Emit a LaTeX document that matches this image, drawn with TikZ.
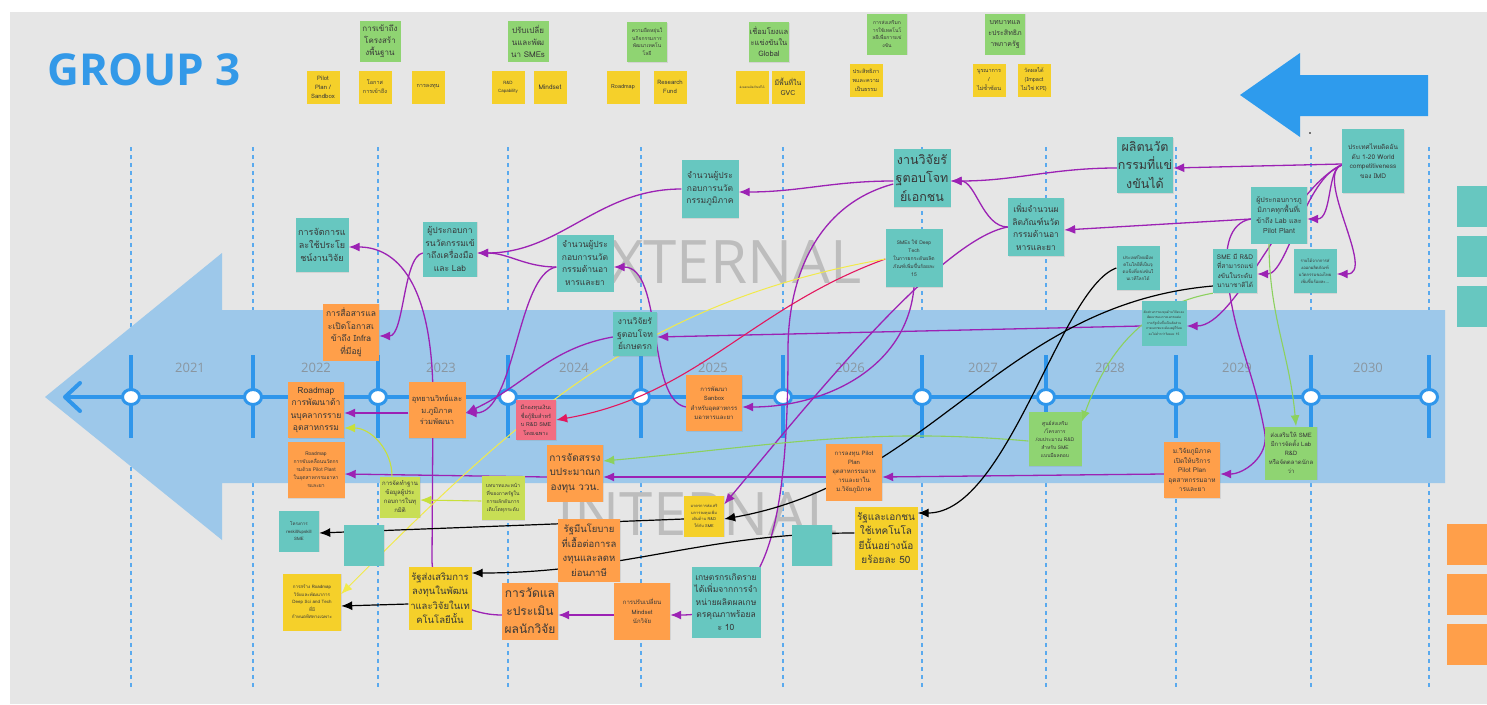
\documentclass[tikz,border=0pt]{standalone}
\usepackage{fontspec}
\setmainfont{Loma}[Script=Thai]
\newfontfamily\osans{Open Sans}
\usetikzlibrary{arrows.meta,shadows}
\definecolor{bg}{HTML}{E6E6E6}
\definecolor{band}{HTML}{9DC8EA}
\definecolor{tlblue}{HTML}{2F96EB}
\definecolor{dashblue}{HTML}{5AAAEE}
\definecolor{yrgray}{HTML}{8A96A0}
\definecolor{bigblue}{HTML}{2E9BED}
\definecolor{grpblue}{HTML}{3399E8}
\definecolor{wmgray}{HTML}{BDBDBD}
\definecolor{cteal}{HTML}{67C7C0}
\definecolor{corange}{HTML}{FF9F4A}
\definecolor{cyellow}{HTML}{F5D02A}
\definecolor{cgreen}{HTML}{8FD472}
\definecolor{clime}{HTML}{C8DE55}
\definecolor{cpink}{HTML}{F26D82}
\definecolor{txt}{HTML}{383838}
\definecolor{cpurple}{HTML}{9C22B4}
\definecolor{cred}{HTML}{E3175E}
\definecolor{cyline}{HTML}{F2EA4A}
\definecolor{climeline}{HTML}{C8E03A}
\definecolor{cgreenline}{HTML}{8CD15E}
\pgfdeclarelayer{bgl}
\pgfdeclarelayer{lnl}
\pgfsetlayers{bgl,lnl,main}
\tikzset{
  sticky/.style={inner sep=1pt, align=center, text=txt,
    drop shadow={shadow xshift=0.7pt,shadow yshift=-0.9pt,opacity=0.18}},
  nTeal/.style={sticky, fill=cteal},
  nOrange/.style={sticky, fill=corange},
  nYellow/.style={sticky, fill=cyellow},
  nGreen/.style={sticky, fill=cgreen},
  nLime/.style={sticky, fill=clime},
  nPink/.style={sticky, fill=cpink},
  wh/.style 2 args={minimum width=#1pt, minimum height=#2pt},
  fz/.style 2 args={font=\fontsize{#1}{#2}\selectfont},
  arr/.style={-{Latex[length=11pt,width=9pt]}},
  cP/.style={arr, draw=cpurple, line width=1.3pt},
  cR/.style={arr, draw=cred, line width=1.1pt},
  cB/.style={arr, draw=black, line width=1.2pt},
  cY/.style={arr, draw=cyline, line width=1pt},
  cL/.style={arr, draw=climeline, line width=1.1pt},
  cG/.style={arr, draw=cgreenline, line width=1.1pt},
  dashln/.style={draw=dashblue, line width=1.6pt, dash pattern=on 4pt off 4pt},
  yrlab/.style={font=\osans\fontsize{13}{13}\selectfont, text=yrgray},
  wmark/.style={font=\osans\fontsize{60}{60}\selectfont, text=wmgray, inner sep=0pt},
}
\begin{document}
\begin{tikzpicture}[x=1pt,y=1pt]
\useasboundingbox (0,0) rectangle (1487,-704);
\begin{pgfonlayer}{bgl}
\fill[white] (0,0) rectangle (1487,-704);
\fill[bg] (10,-12) rectangle (1487,-704);
\foreach \x in {131,253,378,508,641,783,922,1046,1176,1311,1429}
  \draw[dashln] (\x,-147) -- (\x,-690);
\fill[band] (45,-397) -- (222,-253) -- (222,-310) -- (1445,-310) -- (1445,-483) -- (222,-483) -- (222,-540) -- cycle;
\foreach \x in {131,253,378,508,641,783,922,1046,1176,1311,1429}
  \draw[tlblue, line width=4.5pt] (\x,-355) -- (\x,-438);
\draw[tlblue, line width=4pt] (66,-397) -- (1432,-397);
\draw[tlblue, line width=4pt, line cap=round, line join=round] (80,-383) -- (65,-397) -- (80,-411);
\foreach \x in {131,253,378,508,641,783,922,1046,1176,1311,1429}
  \draw[tlblue, line width=3pt, fill=white] (\x,-397) ellipse [x radius=8.5, y radius=7.5];
\foreach \x/\yr in {190/2021,316/2022,441/2023,574/2024,713/2025,850/2026,983/2027,1110/2028,1237/2029,1368/2030}
  \node[yrlab] (yr\yr) at (\x,-368) {\yr};
\node[font=\osans\bfseries\fontsize{44}{44}\selectfont, text=grpblue, inner sep=0pt] (title) at (144,-70) {GROUP 3};
\fill[bigblue] (1240,-95) -- (1300,-53) -- (1300,-75) -- (1428,-75) -- (1428,-116) -- (1300,-116) -- (1300,-137) -- cycle;
\fill[black] (1310,-133) circle (0.9);
\node[wmark, anchor=east] (wmext) at (862,-262) {EXTERNAL};
\node[wmark, anchor=east] (wmint) at (838,-514) {INTERNAL};
\end{pgfonlayer}

% ---- top row ----
\node[nGreen, wh={41}{41}, fz={8}{12}] (g1) at (380,-41) {การเข้าถึง\\โครงสร้า\\งพื้นฐาน};
\node[nGreen, wh={41}{41}, fz={8}{12}] (g2) at (528,-41) {ปรับเปลี่ย\\นและพัฒ\\นา SMEs};
\node[nGreen, wh={40}{40}, fz={5}{7.5}] (g3) at (647,-42) {ความยืดหยุ่นใ\\นกิจกรรมการ\\พัฒนาเทคโน\\โลยี};
\node[nGreen, wh={40}{40}, fz={7.5}{11}] (g4) at (769,-42) {เชื่อมโยงแล\\ะแข่งขันใน\\Global};
\node[nGreen, wh={40}{41}, fz={5}{7.5}] (g5) at (887,-34) {การส่งเสริมก\\ารใช้เทคโนโ\\ลยีเพื่อการแข่\\งขัน};
\node[nGreen, wh={40}{41}, fz={7}{11}] (g6) at (1005,-34) {บทบาทแล\\ะประสิทธิภ\\าพภาครัฐ};
\node[nYellow, wh={33}{33}, fz={6}{9}] (y1) at (323,-87) {Pilot\\Plan /\\Sandbox};
\node[nYellow, wh={33}{33}, fz={5.5}{9}] (y2) at (375,-87) {โอกาส\\การเข้าถึง};
\node[nYellow, wh={33}{33}, fz={5.5}{9}] (y3) at (428,-87) {การลงทุน};
\node[nYellow, wh={33}{33}, fz={4.5}{8}] (y4) at (508,-87) {R\&D\\Capability};
\node[nYellow, wh={33}{33}, fz={6.5}{9}] (y5) at (550,-87) {Mindset};
\node[nYellow, wh={33}{33}, fz={5.5}{9}] (y6) at (623,-87) {Roadmap};
\node[nYellow, wh={33}{33}, fz={6}{9}] (y7) at (670,-87) {Research\\Fund};
\node[nYellow, wh={33}{33}, fz={3}{5}] (y8) at (752,-87) {ส่งออกผลิตภัณฑ์ได้};
\node[nYellow, wh={33}{33}, fz={7}{10}] (y9) at (788,-87) {มีพื้นที่ใน\\GVC};
\node[nYellow, wh={33}{33}, fz={5.5}{9}] (y10) at (866,-80) {ประสิทธิภา\\พและความ\\เป็นธรรม};
\node[nYellow, wh={33}{33}, fz={5.5}{9}] (y11) at (989,-80) {บูรณาการ\\/\\ไม่ซ้ำซ้อน};
\node[nYellow, wh={33}{33}, fz={5.5}{9}] (y12) at (1034,-80) {วัดผลได้\\(Impact\\ไม่ใช่ KPI)};

% ---- main nodes ----
\node[nTeal, wh={53}{54}, fz={9}{13}] (n1) at (322,-245) {การจัดการแ\\ละใช้ประโย\\ชน์งานวิจัย};
\node[nTeal, wh={54}{55}, fz={8.5}{12.5}] (n2) at (450,-249) {ผู้ประกอบกา\\รนวัตกรรมเข้\\าถึงเครื่องมือ\\และ Lab};
\node[nOrange, wh={56}{57}, fz={8.5}{12.5}] (n3) at (351,-332) {การสื่อสารแล\\ะเปิดโอกาสเ\\ข้าถึง Infra\\ที่มีอยู่};
\node[nOrange, wh={56}{56}, fz={8.5}{12.5}] (n4) at (316,-410) {Roadmap\\การพัฒนาด้า\\นบุคลากรราย\\อุตสาหกรรม};
\node[nOrange, wh={57}{56}, fz={7.5}{11.5}] (n5) at (437,-410) {อุทยานวิทย์และ\\ม.ภูมิภาค\\ร่วมพัฒนา};
\node[nPink, wh={40}{40}, fz={5.5}{8.5}] (n6) at (536,-420) {มีกองทุนเงินเ\\ชื่อกู้ยืมสำหรั\\บ R\&D SME\\โดยเฉพาะ};
\node[nTeal, wh={57}{58}, fz={8.5}{12.5}] (n7) at (710,-189) {จำนวนผู้ประ\\กอบการนวัต\\กรรมภูมิภาค};
\node[nTeal, wh={57}{57}, fz={8.5}{12.5}] (n8) at (585,-263) {จำนวนผู้ประ\\กอบการนวัต\\กรรมด้านอา\\หารและยา};
\node[nTeal, wh={44}{44}, fz={8.5}{12.5}] (n9) at (635,-334) {งานวิจัยรั\\ฐตอบโจท\\ย์เกษตรก};
\node[nTeal, wh={57}{58}, fz={12.5}{18.5}] (n10) at (922,-178) {งานวิจัยรั\\ฐตอบโจท\\ย์เอกชน};
\node[nTeal, wh={57}{58}, fz={5}{8}] (n11) at (914,-258) {SMEs ใช้ Deep\\Tech\\ในการยกระดับผลิต\\ภัณฑ์เพิ่มขึ้นร้อยละ\\15};
\node[nTeal, wh={56}{58}, fz={8.5}{12.5}] (n12) at (1036,-227) {เพิ่มจำนวนผ\\ลิตภัณฑ์นวัต\\กรรมด้านอา\\หารและยา};
\node[nTeal, wh={56}{56}, fz={12.5}{18.5}] (n13) at (1145,-165) {ผลิตนวัต\\กรรมที่แข่\\งขันได้};
\node[nTeal, wh={62}{64}, fz={6.5}{9.5}] (n14) at (1373,-161) {ประเทศไทยติดอัน\\ดับ 1-20 World\\competitiveness\\ของ IMD};
\node[nTeal, wh={56}{57}, fz={7}{10.5}] (n15) at (1279,-215) {ผู้ประกอบการภู\\มิภาคทุกพื้นที่เ\\ข้าถึง Lab และ\\Pilot Plant};
\node[nTeal, wh={43}{44}, fz={4.5}{7}] (n16) at (1138,-268) {ประเทศไทยมีเท\\คโนโลยีที่เป็นจุ\\ดแข็งที่แข่งขันใ\\นเวทีโลกได้};
\node[nTeal, wh={44}{44}, fz={6.5}{9.5}] (n17) at (1235,-271) {SME มี R\&D\\ที่สามารถแข่\\งขันในระดับ\\นานาชาติได้};
\node[nTeal, wh={43}{44}, fz={4.2}{7}] (n18) at (1315,-271) {รายได้จากการส่\\งออกผลิตภัณฑ์\\นวัตกรรมของไทย\\เพิ่มขึ้นร้อยละ...};
\node[nTeal, wh={45}{45}, fz={3.2}{5.5}] (n19) at (1164,-323) {สัดส่วนการลงทุนด้านวิจัยและ\\พัฒนาของภาคเอกชนต่อ\\ภาครัฐเพิ่มขึ้นเป็นสัดส่วน\\ภาคเอกชนจะต้องอยู่ที่ร้อย\\ละไม่ต่ำกว่าร้อยละ 15};
\node[nGreen, wh={52}{53}, fz={6}{9}] (n20) at (1291,-453) {ส่งเสริมให้ SME\\มีการจัดตั้ง Lab\\R\&D\\หรือจัดตลาดนักล\\ว่า};
\node[nOrange, wh={56}{56}, fz={6.5}{9.5}] (n21) at (1192,-470) {ม.วิจัยภูมิภาค\\เปิดให้บริการ\\Pilot Plan\\อุตสาหกรรมอาห\\ารและยา};
\node[nGreen, wh={53}{54}, fz={5}{8}] (n22) at (1055,-439) {ศูนย์ส่งเสริม\\/โครงการ\\/งบประมาณ R\&D\\สำหรับ SME\\แบบมีผลตอบ};
\node[nOrange, wh={56}{57}, fz={6}{9}] (n23) at (854,-472) {การลงทุน Pilot\\Plan\\อุตสาหกรรมอาห\\ารและยาใน\\ม.วิจัยภูมิภาค};
\node[nYellow, wh={63}{63}, fz={10}{14.5}] (n24) at (886,-538) {รัฐและเอกชน\\ใช้เทคโนโล\\ยีนั้นอย่างน้อ\\ยร้อยละ 50};
\node[nTeal, wh={40}{41}] (n25) at (812,-545) {};
\node[nOrange, wh={56}{56}, fz={6}{9.5}] (n26) at (714,-403) {การพัฒนา\\Sanbox\\สำหรับอุตสาหกรร\\มอาหารและยา};
\node[nOrange, wh={56}{57}, fz={10}{14.5}] (n27) at (575,-473) {การจัดสรรง\\บประมาณก\\องทุน ววน.};
\node[nYellow, wh={40}{41}, fz={4}{6.5}] (n28) at (704,-516) {มาตรการส่งเสริ\\มการลงทุนเพิ่ม\\เติมด้าน R\&D\\ให้กับ SME};
\node[nOrange, wh={62}{63}, fz={9.5}{14.5}] (n29) at (589,-550) {รัฐมีนโยบาย\\ที่เอื้อต่อการล\\งทุนและลดห\\ย่อนภาษี};
\node[nTeal, wh={69}{71}, fz={8.5}{12.5}] (n30) at (726,-602) {เกษตรกรเกิดราย\\ได้เพิ่มจากการจำ\\หน่ายผลิตผลเกษ\\ตรคุณภาพร้อยล\\ะ 10};
\node[nOrange, wh={56}{57}, fz={6}{9.5}] (n31) at (642,-611) {การปรับเปลี่ยน\\Mindset\\นักวิจัย};
\node[nOrange, wh={56}{57}, fz={12}{18}] (n32) at (530,-611) {การวัดแล\\ะประเมิน\\ผลนักวิจัย};
\node[nOrange, wh={57}{56}, fz={5}{8}] (n33) at (316,-470) {Roadmap\\การขับเคลื่อนนวัตกร\\รมด้วย Pilot Plant\\ในอุตสาหกรรมอาหา\\รและยา};
\node[nLime, wh={40}{41}, fz={6}{9}] (n34) at (400,-497) {การจัดทำฐาน\\ข้อมูลผู้ประ\\กอบการในทุ\\กมิติ};
\node[nLime, wh={43}{44}, fz={5}{8}] (n35) at (503,-498) {บทบาทและหน้า\\ที่ของภาครัฐใน\\การผลักดันการ\\เติบโตทุกระดับ};
\node[nTeal, wh={40}{41}, fz={4.5}{7.5}] (n36) at (299,-531) {โครงการ\\reskill/upskill\\SME};
\node[nTeal, wh={40}{41}] (n37) at (364,-545) {};
\node[nYellow, wh={58}{57}, fz={4.5}{7.5}] (n38) at (312,-602) {การสร้าง Roadmap\\วิจัยและพัฒนาการ\\Deep Sci and Tech\\ที่มี\\กำหนดทิศทางเฉพาะ};
\node[nYellow, wh={63}{63}, fz={9.5}{14.5}] (n39) at (440,-598) {รัฐส่งเสริมการ\\ลงทุนในพัฒน\\าและวิจัยในเท\\คโนโลยีนั้น};
% right edge
\node[nTeal, wh={33}{41}, anchor=west] (r1) at (1457,-206) {};
\node[nTeal, wh={33}{41}, anchor=west] (r2) at (1457,-256) {};
\node[nTeal, wh={33}{41}, anchor=west] (r3) at (1457,-306) {};
\node[nOrange, wh={43}{41}, anchor=west] (r4) at (1447,-544) {};
\node[nOrange, wh={43}{41}, anchor=west] (r5) at (1447,-594) {};
\node[nOrange, wh={43}{41}, anchor=west] (r6) at (1447,-644) {};

% ---- connectors ----
\begin{pgfonlayer}{lnl}
\draw[cP] ([yshift=-3pt]n14.west) -- ([yshift=-3pt]n13.east);
\draw[cP] ([yshift=-3pt]n13.west) to[out=180,in=0] ([yshift=-3pt]n10.east);
\draw[cP] ([yshift=-3pt]n10.west) to[out=180,in=0] ([yshift=-3pt]n7.east);
\draw[cP] (n12.west) to[out=180,in=0,out distance=25pt,in distance=25pt] ([yshift=-3pt]n10.east);
\draw[cP] (n12.west) to[out=190,in=50,out distance=70pt,in distance=120pt] (n28.30);
\draw[cP] ([yshift=-4pt]n15.west) -- ([yshift=-3pt]n12.east);
\draw[cP] ([yshift=-4pt]n15.west) to[out=190,in=95] ([xshift=-8pt]n17.center) to[out=275,in=100] ([yshift=20pt]n20.west) to[out=280,in=0] ([yshift=-4pt]n21.east);
\draw[cP] ([yshift=-4pt]n14.west) to[out=190,in=0,out distance=15pt,in distance=25pt] ([yshift=-4pt]n15.east);
\draw[cP] ([yshift=-4pt]n14.west) to[out=200,in=0,out distance=30pt,in distance=40pt] ([yshift=-3pt]n18.east);
\draw[cP] ([yshift=-4pt]n14.west) to[out=200,in=0,out distance=40pt,in distance=30pt] ([yshift=-3pt]n17.east);
\draw[cP] ([yshift=-4pt]n14.west) to[out=205,in=0,out distance=60pt,in distance=50pt] ([yshift=-3pt]n19.east);
\draw[cP] ([yshift=-3pt]n19.west) -- ([yshift=-3pt]n9.east);
\draw[cP] (n11.south) to[out=265,in=0] ([yshift=-4pt]n26.east);
\draw[cP] ([yshift=-6pt]n10.west) to[out=195,in=90] (788,-350) to[out=270,in=0,out distance=200pt,in distance=90pt] ([yshift=-4pt]n31.east);
\draw[cP] ([yshift=-4pt]n8.west) to[out=180,in=0] ([yshift=-4pt]n2.east);
\draw[cP] (n7.west) to[out=180,in=0] ([yshift=-4pt]n2.east);
\draw[cP] ([yshift=-4pt]n8.west) to[out=190,in=0,out distance=40pt,in distance=50pt] ([yshift=-3pt]n5.east);
\draw[cP] ([yshift=-3pt]n9.west) to[out=190,in=25] ([yshift=-3pt]n5.east);
\draw[cP] ([yshift=-4pt]n2.west) to[out=190,in=0,out distance=20pt,in distance=25pt] ([yshift=-4pt]n3.east);
\draw[cP] ([yshift=-4pt]n32.west) to[out=180,in=270] (432,-560) -- (433,-400) to[out=90,in=0,out distance=130pt,in distance=40pt] ([yshift=-2pt]n1.east);
\draw[cP] ([yshift=-3pt]n5.west) -- ([yshift=-3pt]n4.east);
\draw[cP] ([yshift=-4pt]n27.west) -- ([yshift=-4pt]n33.east);
\draw[cP] ([yshift=-5pt]n23.west) -- ([yshift=-4pt]n27.east);
\draw[cP] ([yshift=-4pt]n21.west) -- ([yshift=-5pt]n23.east);
\draw[cP] ([yshift=-4pt]n31.west) -- ([yshift=-4pt]n32.east);
\draw[cP] ([yshift=-4pt]n26.west) to[out=170,in=0,out distance=40pt,in distance=50pt] ([yshift=-4pt]n8.east);
\draw[cR] ([yshift=-1pt]n11.west) to[out=200,in=10] (n6.east);
\draw[cY] ([yshift=-1pt]n11.west) to[out=190,in=45] ([yshift=8pt]n38.east);
\draw[cL] ([xshift=-8pt]n34.north) to[out=90,in=0] ([yshift=-18pt]n4.east);
\draw[cL] ([yshift=-3pt]n35.west) -- ([yshift=-3pt]n34.east);
\draw[cG] (n17.south west) to[out=190,in=70] ([yshift=-10pt]n22.north east);
\draw[cG] ([xshift=-10pt]n15.south) to[out=270,in=95] ([xshift=5pt]n20.north);
\draw[cG] ([yshift=-2pt]n22.west) to[out=175,in=5] ([yshift=12pt]n27.east);
\draw[cB] (n16.west) to[out=200,in=0,out distance=60pt,in distance=90pt] ([yshift=25pt]n24.east);
\draw[cB] ([yshift=-15pt]n17.west) to[out=185,in=10] ([yshift=-3pt]n28.east);
\draw[cB] ([yshift=-3pt]n28.west) -- ([yshift=-2pt]n36.east);
\draw[cB] ([yshift=5pt]n24.west) to[out=180,in=0] ([yshift=25pt]n39.east);
\draw[cB] ([yshift=-6pt]n39.west) -- ([yshift=-4pt]n38.east);
\end{pgfonlayer}
\end{tikzpicture}
\end{document}
